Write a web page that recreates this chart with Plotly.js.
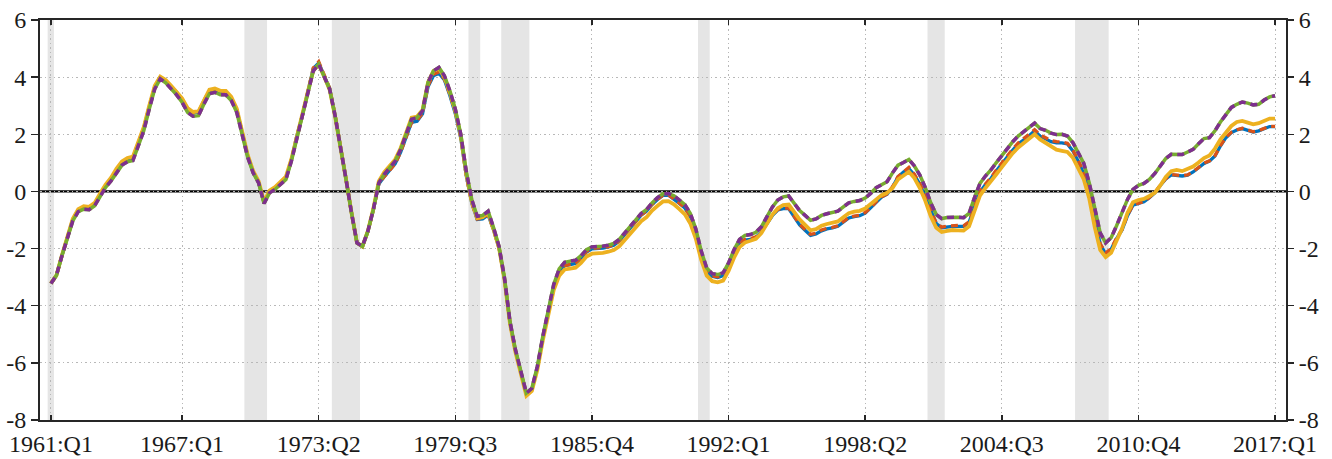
<!DOCTYPE html>
<html>
<head>
<meta charset="utf-8">
<script src="https://cdn.plot.ly/plotly-3.0.1.min.js"></script>
<style>html,body{margin:0;padding:0;background:#fff}#chart{width:1332px;height:459px}</style>
</head>
<body>
<div id="chart"></div>
<script>
// Quarterly categories 1961:Q1 .. 2017:Q1
const quarters = [];
for (let y = 1961; y <= 2017; y++) {
  for (let q = 1; q <= 4; q++) {
    if (y === 2017 && q > 1) break;
    quarters.push(y + ':Q' + q);
  }
}

const xTickLabels = ['1961:Q1','1967:Q1','1973:Q2','1979:Q3','1985:Q4','1992:Q1','1998:Q2','2004:Q3','2010:Q4','2017:Q1'];
const yTickValues = [-8,-6,-4,-2,0,2,4,6];
const yTickLabels = ['-8','-6','-4','-2','0','2','4','6'];

// Recession periods (start quarter, end quarter)
const recessionStart = ['1960:Q4','1969:Q4','1973:Q4','1980:Q1','1981:Q3','1990:Q3','2001:Q1','2007:Q4'];
const recessionEnd   = ['1961:Q1','1970:Q4','1975:Q1','1980:Q3','1982:Q4','1991:Q1','2001:Q4','2009:Q2'];

const seriesBlue = [
-3.22,-2.94,-2.26,-1.60,-0.98,-0.66,-0.57,-0.59,-0.45,-0.13,0.19,0.42,0.73,0.99,1.13,1.18,1.70,2.22,2.97,3.66,
3.99,3.87,3.67,3.47,3.22,2.88,2.75,2.77,3.17,3.52,3.56,3.48,3.48,3.27,2.86,2.03,1.25,0.68,0.32,-0.40,
-0.02,0.12,0.30,0.47,1.10,1.94,2.65,3.54,4.30,4.50,4.08,3.60,2.66,1.60,0.43,-0.74,-1.80,-1.93,-1.40,-0.65,
0.26,0.52,0.74,0.97,1.38,1.90,2.42,2.46,2.72,3.66,4.05,4.14,3.90,3.36,2.72,1.86,0.55,-0.40,-0.98,-0.96,
-0.82,-1.35,-1.98,-3.08,-4.60,-5.58,-6.34,-7.10,-6.94,-6.17,-5.12,-4.18,-3.32,-2.82,-2.60,-2.56,-2.52,-2.36,-2.12,-2.01,
-2.00,-1.98,-1.94,-1.88,-1.74,-1.51,-1.28,-1.04,-0.83,-0.69,-0.46,-0.28,-0.14,-0.13,-0.26,-0.42,-0.58,-0.88,-1.42,-2.20,
-2.78,-2.97,-3.01,-2.95,-2.60,-2.14,-1.80,-1.70,-1.68,-1.61,-1.42,-1.15,-0.85,-0.65,-0.60,-0.60,-0.88,-1.17,-1.36,-1.54,
-1.49,-1.38,-1.31,-1.28,-1.22,-1.07,-0.93,-0.88,-0.85,-0.76,-0.58,-0.37,-0.20,-0.10,0.15,0.50,0.68,0.80,0.58,0.25,
-0.20,-0.72,-1.12,-1.27,-1.24,-1.22,-1.22,-1.22,-1.08,-0.55,-0.02,0.24,0.45,0.72,0.97,1.22,1.45,1.66,1.80,1.95,
2.12,1.93,1.84,1.74,1.70,1.70,1.66,1.42,1.05,0.62,0.00,-0.95,-1.85,-2.18,-2.02,-1.65,-1.35,-0.85,-0.48,-0.42,
-0.36,-0.22,-0.05,0.21,0.44,0.58,0.56,0.54,0.57,0.68,0.83,0.98,1.06,1.24,1.59,1.88,2.06,2.15,2.20,2.15,
2.08,2.12,2.21,2.27,2.27
];

const seriesRed = [
-3.22,-2.94,-2.26,-1.60,-0.98,-0.66,-0.57,-0.59,-0.45,-0.13,0.19,0.42,0.73,0.99,1.13,1.18,1.70,2.22,2.97,3.66,
3.99,3.87,3.67,3.47,3.22,2.88,2.75,2.77,3.17,3.52,3.56,3.48,3.48,3.27,2.86,2.03,1.25,0.68,0.32,-0.40,
-0.02,0.12,0.30,0.47,1.10,1.94,2.65,3.54,4.32,4.54,4.10,3.62,2.68,1.60,0.43,-0.74,-1.80,-1.93,-1.40,-0.65,
0.26,0.52,0.74,0.97,1.38,1.90,2.42,2.48,2.74,3.70,4.10,4.18,3.94,3.40,2.78,1.90,0.56,-0.40,-0.96,-0.94,
-0.80,-1.35,-1.98,-3.08,-4.60,-5.58,-6.34,-7.10,-6.94,-6.17,-5.12,-4.18,-3.32,-2.82,-2.60,-2.55,-2.50,-2.34,-2.10,-1.99,
-1.99,-1.97,-1.93,-1.87,-1.73,-1.50,-1.27,-1.03,-0.82,-0.68,-0.45,-0.27,-0.13,-0.12,-0.25,-0.41,-0.57,-0.87,-1.41,-2.18,
-2.76,-2.95,-2.99,-2.93,-2.58,-2.12,-1.78,-1.68,-1.66,-1.59,-1.40,-1.13,-0.83,-0.63,-0.58,-0.58,-0.86,-1.15,-1.33,-1.50,
-1.46,-1.35,-1.29,-1.26,-1.20,-1.05,-0.91,-0.86,-0.83,-0.74,-0.57,-0.36,-0.19,-0.09,0.16,0.52,0.70,0.84,0.60,0.27,
-0.18,-0.70,-1.10,-1.25,-1.21,-1.19,-1.19,-1.20,-1.06,-0.53,0.00,0.26,0.48,0.75,1.00,1.25,1.48,1.70,1.85,2.00,
2.16,1.98,1.88,1.78,1.74,1.73,1.69,1.45,1.08,0.65,0.02,-0.93,-1.83,-2.16,-2.00,-1.63,-1.33,-0.83,-0.47,-0.41,
-0.35,-0.21,-0.04,0.22,0.45,0.59,0.57,0.55,0.58,0.69,0.84,0.99,1.07,1.25,1.60,1.89,2.07,2.16,2.21,2.16,
2.09,2.13,2.22,2.28,2.28
];

const seriesYellow = [
-3.22,-2.94,-2.24,-1.58,-0.96,-0.62,-0.52,-0.54,-0.40,-0.07,0.24,0.48,0.80,1.05,1.17,1.22,1.74,2.26,3.01,3.70,
4.02,3.90,3.70,3.50,3.26,2.92,2.78,2.80,3.20,3.56,3.60,3.52,3.52,3.31,2.90,2.06,1.28,0.72,0.36,-0.36,
0.03,0.15,0.34,0.52,1.13,1.94,2.62,3.48,4.22,4.44,4.02,3.56,2.62,1.58,0.42,-0.74,-1.80,-1.92,-1.38,-0.60,
0.36,0.68,0.90,1.12,1.52,2.05,2.58,2.62,2.85,3.82,4.22,4.30,4.00,3.46,2.82,1.94,0.62,-0.35,-0.93,-0.90,
-0.75,-1.33,-1.98,-3.10,-4.63,-5.62,-6.38,-7.15,-6.98,-6.25,-5.22,-4.30,-3.45,-2.95,-2.73,-2.70,-2.67,-2.50,-2.28,-2.18,
-2.17,-2.15,-2.11,-2.05,-1.92,-1.70,-1.48,-1.25,-1.04,-0.90,-0.67,-0.50,-0.35,-0.34,-0.45,-0.62,-0.80,-1.12,-1.65,-2.40,
-2.95,-3.14,-3.18,-3.12,-2.78,-2.32,-1.95,-1.79,-1.74,-1.66,-1.46,-1.15,-0.82,-0.59,-0.48,-0.46,-0.72,-0.98,-1.17,-1.36,
-1.32,-1.20,-1.14,-1.11,-1.05,-0.90,-0.76,-0.71,-0.68,-0.60,-0.45,-0.26,-0.13,-0.05,0.12,0.42,0.56,0.69,0.47,0.12,
-0.33,-0.87,-1.27,-1.42,-1.38,-1.35,-1.36,-1.37,-1.22,-0.67,-0.15,0.12,0.34,0.60,0.85,1.10,1.34,1.54,1.68,1.83,
2.00,1.82,1.70,1.56,1.46,1.42,1.38,1.18,0.82,0.42,-0.25,-1.25,-2.05,-2.30,-2.15,-1.75,-1.30,-0.75,-0.38,-0.30,
-0.26,-0.16,-0.05,0.21,0.51,0.71,0.75,0.71,0.80,0.87,1.01,1.17,1.26,1.50,1.82,2.08,2.29,2.43,2.47,2.41,
2.35,2.39,2.48,2.55,2.55
];

const seriesGreen = [
-3.22,-2.94,-2.26,-1.61,-1.03,-0.71,-0.62,-0.64,-0.50,-0.18,0.14,0.37,0.67,0.92,1.04,1.08,1.60,2.13,2.89,3.59,
3.94,3.80,3.59,3.38,3.12,2.77,2.63,2.65,3.06,3.42,3.47,3.38,3.38,3.18,2.77,1.95,1.20,0.65,0.30,-0.42,
-0.05,0.07,0.25,0.42,1.06,1.88,2.58,3.46,4.22,4.46,4.05,3.58,2.64,1.59,0.42,-0.75,-1.80,-1.92,-1.39,-0.63,
0.30,0.60,0.83,1.06,1.47,2.00,2.53,2.58,2.82,3.81,4.22,4.34,4.05,3.52,2.88,2.00,0.70,-0.28,-0.87,-0.84,
-0.69,-1.27,-1.92,-3.03,-4.55,-5.54,-6.30,-7.06,-6.89,-6.13,-5.08,-4.14,-3.26,-2.71,-2.48,-2.44,-2.41,-2.25,-2.04,-1.94,
-1.94,-1.92,-1.88,-1.82,-1.68,-1.45,-1.22,-0.98,-0.77,-0.63,-0.40,-0.22,-0.08,-0.07,-0.15,-0.30,-0.46,-0.77,-1.31,-2.09,
-2.68,-2.88,-2.91,-2.85,-2.50,-2.04,-1.68,-1.54,-1.51,-1.43,-1.24,-0.89,-0.55,-0.30,-0.19,-0.16,-0.42,-0.67,-0.84,-1.01,
-0.96,-0.84,-0.78,-0.75,-0.69,-0.54,-0.40,-0.35,-0.32,-0.23,-0.07,0.13,0.25,0.34,0.65,0.92,1.01,1.12,0.89,0.57,
0.13,-0.40,-0.81,-0.95,-0.91,-0.89,-0.90,-0.92,-0.77,-0.22,0.28,0.54,0.75,1.01,1.26,1.51,1.74,1.94,2.08,2.23,
2.39,2.20,2.14,2.04,1.99,2.00,1.94,1.71,1.36,0.98,0.30,-0.63,-1.45,-1.80,-1.62,-1.20,-0.75,-0.28,0.07,0.21,
0.28,0.42,0.63,0.89,1.15,1.30,1.29,1.29,1.38,1.47,1.67,1.85,1.88,2.12,2.43,2.70,2.94,3.05,3.13,3.09,
3.03,3.05,3.20,3.31,3.35
];

const seriesPurple = [
-3.22,-2.94,-2.26,-1.61,-1.03,-0.71,-0.62,-0.64,-0.50,-0.18,0.14,0.37,0.67,0.92,1.04,1.08,1.60,2.13,2.89,3.59,
3.94,3.80,3.59,3.38,3.12,2.77,2.63,2.65,3.06,3.42,3.47,3.38,3.38,3.18,2.77,1.95,1.20,0.65,0.30,-0.42,
-0.05,0.07,0.25,0.42,1.06,1.88,2.58,3.46,4.22,4.46,4.05,3.58,2.64,1.59,0.42,-0.75,-1.80,-1.92,-1.39,-0.63,
0.30,0.60,0.83,1.06,1.47,2.00,2.53,2.58,2.82,3.81,4.22,4.34,4.05,3.52,2.88,2.00,0.70,-0.28,-0.87,-0.84,
-0.69,-1.27,-1.92,-3.03,-4.55,-5.54,-6.30,-7.06,-6.89,-6.13,-5.08,-4.14,-3.26,-2.71,-2.48,-2.44,-2.41,-2.25,-2.04,-1.94,
-1.94,-1.92,-1.88,-1.82,-1.68,-1.45,-1.22,-0.98,-0.77,-0.63,-0.40,-0.22,-0.08,-0.07,-0.15,-0.30,-0.46,-0.77,-1.31,-2.09,
-2.68,-2.88,-2.91,-2.85,-2.50,-2.04,-1.68,-1.54,-1.51,-1.43,-1.24,-0.89,-0.55,-0.30,-0.19,-0.16,-0.42,-0.67,-0.84,-1.01,
-0.96,-0.84,-0.78,-0.75,-0.69,-0.54,-0.40,-0.35,-0.32,-0.23,-0.07,0.13,0.25,0.34,0.65,0.92,1.01,1.12,0.89,0.57,
0.13,-0.40,-0.81,-0.95,-0.91,-0.89,-0.90,-0.92,-0.77,-0.22,0.28,0.54,0.75,1.01,1.26,1.51,1.74,1.94,2.08,2.23,
2.39,2.20,2.14,2.04,1.99,2.00,1.94,1.71,1.36,0.98,0.30,-0.63,-1.45,-1.80,-1.62,-1.20,-0.75,-0.28,0.07,0.21,
0.28,0.42,0.63,0.89,1.15,1.30,1.29,1.29,1.38,1.47,1.67,1.85,1.88,2.12,2.43,2.70,2.94,3.05,3.13,3.09,
3.03,3.05,3.20,3.31,3.35
];

function qIndex(label) {
  const y = parseInt(label.slice(0, 4), 10);
  const q = parseInt(label.slice(-1), 10);
  return (y - 1961) * 4 + (q - 1);
}

const fontFam = 'Liberation Serif, Times New Roman, serif';
const tickFont = {family: fontFam, size: 24, color: '#1a1a1a'};

function line(y, color, dash, width) {
  return {
    type: 'scatter', mode: 'lines', x: quarters, y: y,
    line: {color: color, width: width, dash: dash, shape: 'linear'},
    hoverinfo: 'skip', showlegend: false
  };
}

const traces = [
  line(seriesBlue, '#0072BD', 'solid', 3.3),
  line(seriesRed, '#D95319', '7px,5px', 3.3),
  line(seriesYellow, '#EDB120', 'solid', 3.8),
  line(seriesGreen, '#77AC30', 'solid', 3.5),
  line(seriesPurple, '#7E2F8E', '7px,5px', 3.5),
  {type: 'scatter', mode: 'lines', x: [quarters[0]], y: [null], yaxis: 'y2', showlegend: false, hoverinfo: 'skip'}
];

const shapes = [];
for (let k = 0; k < recessionStart.length; k++) {
  shapes.push({
    type: 'rect', xref: 'x', yref: 'paper',
    x0: qIndex(recessionStart[k]) + 0.4, x1: qIndex(recessionEnd[k]) + 0.55,
    y0: 0, y1: 1, fillcolor: '#e5e5e5', line: {width: 0}, layer: 'between'
  });
}
shapes.push({
  type: 'line', xref: 'paper', yref: 'y', x0: 0, x1: 1, y0: 0, y1: 0,
  line: {color: '#000000', width: 2.2}, layer: 'between'
});

const layout = {
  width: 1332, height: 459,
  margin: {l: 40, r: 46, t: 20, b: 39, pad: 0},
  paper_bgcolor: '#ffffff', plot_bgcolor: '#ffffff',
  font: {family: fontFam, size: 24, color: '#1a1a1a'},
  showlegend: false,
  xaxis: {
    type: 'category', range: [-2, 226],
    tickmode: 'array', tickvals: xTickLabels, ticktext: xTickLabels,
    ticks: 'inside', ticklen: 5, tickwidth: 1.5, tickcolor: '#262626',
    showline: true, linecolor: '#262626', linewidth: 2, mirror: 'ticks',
    showgrid: true, gridcolor: '#b8b8b8', gridwidth: 1, griddash: '1.5px,3px',
    zeroline: false, tickangle: 0, ticklabelstandoff: 1,
    tickfont: tickFont
  },
  yaxis: {
    range: [-8, 6], tickmode: 'array', tickvals: yTickValues, ticktext: yTickLabels,
    ticks: 'outside', ticklen: 7, tickwidth: 1.5, tickcolor: '#262626',
    showline: true, linecolor: '#262626', linewidth: 2, mirror: true,
    showgrid: true, gridcolor: '#b8b8b8', gridwidth: 1, griddash: '1.5px,3px',
    zeroline: false,
    tickfont: tickFont
  },
  yaxis2: {
    overlaying: 'y', side: 'right', range: [-8, 6],
    tickmode: 'array', tickvals: yTickValues, ticktext: yTickLabels,
    ticks: 'outside', ticklen: 7, tickwidth: 1.5, tickcolor: '#262626',
    showline: false, showgrid: false, zeroline: false,
    tickfont: tickFont
  },
  shapes: shapes
};

Plotly.newPlot('chart', traces, layout, {staticPlot: true, displayModeBar: false});
</script>
</body>
</html>
